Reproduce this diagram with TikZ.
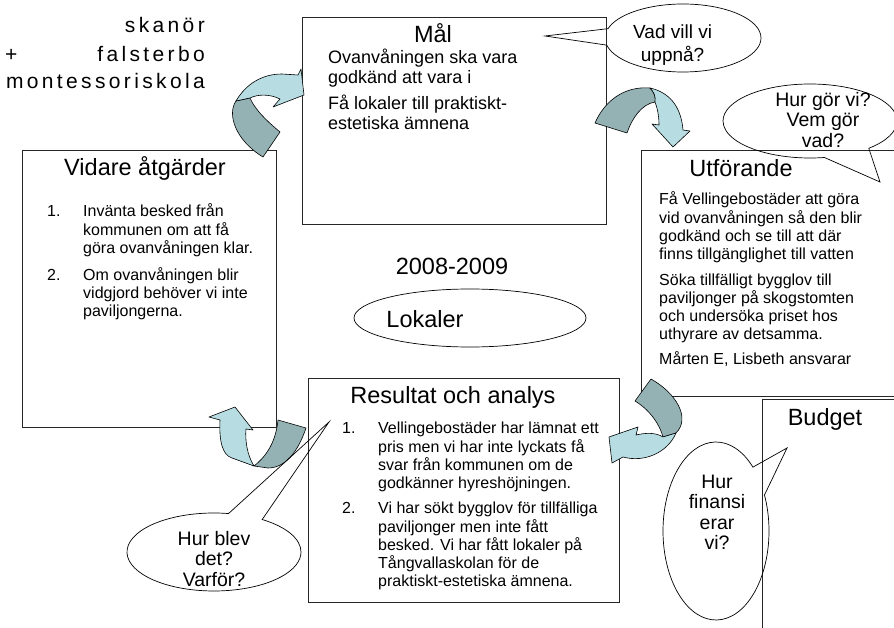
\documentclass[tikz,border=0pt]{standalone}
\usepackage{fontspec}
\setmainfont{Liberation Sans}
\newfontfamily\spacedfont[LetterSpace=16]{Liberation Sans}
\usetikzlibrary{shapes.geometric,shapes.callouts}

\definecolor{ribbonlight}{RGB}{183,221,227}
\definecolor{ribbondark}{RGB}{148,178,180}

\tikzset{
  panel/.style={draw=black!85, line width=0.8pt},
  paneltitle/.style={font=\fontsize{23.5}{26}\selectfont, inner sep=0pt, anchor=base},
  paneltext/.style={font=\fontsize{16}{18}\selectfont, inner sep=0pt, anchor=north west, align=left},
  goaltext/.style={paneltext, font=\fontsize{18}{20}\selectfont},
  schoolname/.style={font=\spacedfont\fontsize{21}{24}\selectfont, inner sep=0pt},
  bubble/.style={ellipse callout, draw=black, line width=0.7pt, inner sep=0pt},
  bubbletext/.style={font=\fontsize{19.5}{20.5}\selectfont, inner sep=0pt, align=center, anchor=north},
  ribbonfront/.style={fill=ribbonlight, draw=black, line width=0.6pt, line join=round},
  ribbonback/.style={fill=ribbondark, draw=black, line width=0.6pt, line join=round},
}

\begin{document}
\begin{tikzpicture}[x=1pt,y=-1pt]
  \useasboundingbox (0,0) rectangle (894,628);

% SCHOOL NAME =================================================================
  \node[schoolname, anchor=base east] (nametop) at (205,33) {skanör};
  \node[schoolname, anchor=base west] (nameplus) at (5,62) {+};
  \node[schoolname, anchor=base east] (namemid) at (205,62) {falsterbo};
  \node[schoolname, anchor=base east] (namebot) at (205,89) {montessoriskola};

% BOXES =======================================================================
  \draw[panel] (302,17) rectangle (606,224);  % Mal
  \draw[panel] (22,150) rectangle (276,427);  % Vidare atgarder
  \draw[panel] (641,150) rectangle (900,396); % Utforande
  \draw[panel] (308,378) rectangle (619,602); % Resultat och analys
  \draw[panel] (762,399) rectangle (900,640); % Budget

% TITLES ======================================================================
  \node[paneltitle] (goaltitle) at (433,43) {Mål};
  \node[paneltitle] (nexttitle) at (145,176) {Vidare åtgärder};
  \node[paneltitle] (worktitle) at (741,177) {Utförande};
  \node[paneltitle] (resulttitle) at (453,403) {Resultat och analys};
  \node[paneltitle] (budgettitle) at (825,425) {Budget};
  \node[paneltitle] (yeartitle) at (452,275) {2008-2009};

% MAL =========================================================================
  \node[goaltext] (goalbody) at (328,49)
    {\strut Ovanvåningen ska vara\\godkänd att vara i\\[6pt]
     Få lokaler till praktiskt-\\estetiska ämnena};

% VIDARE ATGARDER =============================================================
  \node[paneltext] (nextnumA) at (47,203.4) {\strut 1.};
  \node[paneltext] (nextitemA) at (83,203.4)
    {\strut Invänta besked från\\kommunen om att få\\göra ovanvåningen klar.};
  \node[paneltext] (nextnumB) at (47,267.4) {\strut 2.};
  \node[paneltext] (nextitemB) at (83,267.4)
    {\strut Om ovanvåningen blir\\vidgjord behöver vi inte\\paviljongerna.};

% UTFORANDE ===================================================================
  \node[paneltext] (workbody) at (659,191.4)
    {\strut Få Vellingebostäder att göra\\vid ovanvåningen så den blir\\
     godkänd och se till att där\\finns tillgänglighet till vatten\\[7.5pt]
     Söka tillfälligt bygglov till\\paviljonger på skogstomten\\
     och undersöka priset hos\\uthyrare av detsamma.\\[7.5pt]
     Mårten E, Lisbeth ansvarar};

% RESULTAT OCH ANALYS =========================================================
  \node[paneltext] (resultnumA) at (342,420.4) {\strut 1.};
  \node[paneltext] (resultitemA) at (378,420.4)
    {\strut Vellingebostäder har lämnat ett\\pris men vi har inte lyckats få\\
     svar från kommunen om de\\godkänner hyreshöjningen.};
  \node[paneltext] (resultnumB) at (342,500.4) {\strut 2.};
  \node[paneltext] (resultitemB) at (378,500.4)
    {\strut Vi har sökt bygglov för tillfälliga\\paviljonger men inte fått\\
     besked. Vi har fått lokaler på\\Tångvallaskolan för de\\
     praktiskt-estetiska ämnena.};

% LOKALER =====================================================================
  \draw[line width=0.7pt] (470,318) ellipse [x radius=116, y radius=29];
  \node[paneltitle] (topic) at (425,327) {Lokaler};

% CURVED ARROWS ===============================================================
  % Vidare atgarder -> Mal
  \draw[ribbonback] (236,101) .. controls (227,114) and (235,140) .. (263,157)
    -- (280,132) .. controls (268,122) and (255,110) .. (250,98) -- cycle;
  \draw[ribbonfront] (236,101) .. controls (246,84) and (262,74) .. (282,74)
    -- (298,75) -- (301,69) -- (304,95) -- (273,107) -- (280,99)
    .. controls (270,94) and (258,94) .. (250,98) -- cycle;
  % Mal -> Utforande
  \draw[ribbonback] (595,123) .. controls (605,100) and (625,86) .. (650,88)
    .. controls (654,92) and (656,97) .. (655,102)
    .. controls (642,104) and (632,118) .. (627,133) -- cycle;
  \draw[ribbonfront] (650,88) .. controls (668,92) and (681,105) .. (683,130)
    -- (690,131) -- (673,147) -- (652,124) -- (659,125)
    .. controls (659,115) and (657,107) .. (655,102)
    .. controls (656,97) and (654,92) .. (650,88) -- cycle;
  % Utforande -> Resultat och analys
  \draw[ribbonback] (651,379) .. controls (676,393) and (691,418) .. (676,433)
    -- (663,437) .. controls (660,425) and (650,410) .. (635,401) -- cycle;
  \draw[ribbonfront] (663,437) .. controls (655,432) and (645,433) .. (636,435)
    -- (638,427) -- (609,437) -- (612,463) -- (623,457)
    .. controls (645,463) and (668,452) .. (676,433) -- cycle;
  % Resultat och analys -> Vidare atgarder
  \draw[ribbonback] (278,420) -- (306,428) .. controls (298,452) and (285,468) .. (268,468)
    -- (254,466) .. controls (268,455) and (276,440) .. (278,420) -- cycle;
  \draw[ribbonfront] (254,466) .. controls (247,455) and (245,440) .. (246,429)
    -- (253,430) -- (235,407) -- (209,417) -- (220,420)
    .. controls (219,440) and (222,455) .. (232,458) -- cycle;

% SPEECH BUBBLES ==============================================================
  \node[bubble, minimum width=156, minimum height=68, callout pointer arc=28,
        callout absolute pointer={(545,36)}] (askgoal) at (683,38) {};
  \node[bubbletext, anchor=north west, font=\fontsize{19}{23}\selectfont]
    (askgoaltext) at (633,21.9) {\strut Vad vill vi\\uppnå?};

  \node[bubble, minimum width=174, minimum height=74, callout pointer arc=33,
        callout absolute pointer={(880,182)}] (askwork) at (810,121) {};
  \node[bubbletext] (askworktext) at (823,91.6) {\strut Hur gör vi?\\Vem gör\\vad?};

  \node[bubble, minimum width=174, minimum height=78, callout pointer arc=24,
        callout absolute pointer={(329,422)}] (askresult) at (214,552) {};
  \node[bubbletext] (askresulttext) at (214,530.6) {\strut Hur blev\\det?\\Varför?};

  \node[bubble, minimum width=106, minimum height=178, callout pointer arc=22,
        callout absolute pointer={(787,448)}] (askbudget) at (716,531) {};
  \node[bubbletext] (askbudgettext) at (717,473.6) {\strut Hur\\finansi\\erar\\vi?};

\end{tikzpicture}
\end{document}
